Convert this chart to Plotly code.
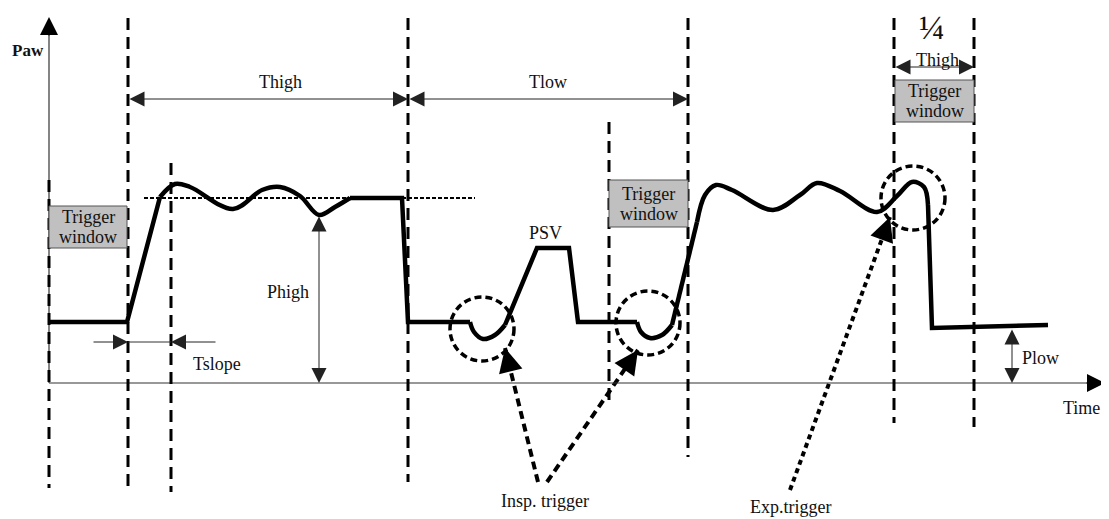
import plotly.graph_objects as go

FONT = "Liberation Serif"
INK = "#111111"
W, H = 1109, 519
PAGE_PAD = 8  # the page body margin that offsets the figure

# drawing units: x = time axis position, y = row (axis reversed, baseline at 383)
x_origin, y_base = 49, 383
x_end, y_top = 1105, 17

# pressure waveform, piecewise: straight ramps and smooth oscillations
wave_segments = [
    ("linear", [49, 127, 160], [322, 322, 197]),
    ("spline", [160, 175, 190, 233, 262, 280, 300, 319, 335, 350],
               [197, 184, 187, 209, 190, 187, 196, 215, 207, 198]),
    ("linear", [350, 402, 408, 470], [198, 198, 322, 322]),
    ("spline", [470, 474, 483, 495, 505], [322, 332, 339, 335, 325]),
    ("linear", [505, 537, 569, 578, 637], [325, 248, 248, 322, 322]),
    ("spline", [637, 641, 650, 662, 672], [322, 332, 338, 335, 325]),
    ("linear", [672, 697], [325, 222]),
    ("spline", [697, 705, 716, 732, 773, 800, 817, 840, 877, 897, 912, 924, 928],
               [222, 195, 185, 190, 210, 195, 183, 191, 212, 196, 182, 187, 205]),
    ("linear", [928, 932, 1048], [205, 328, 325]),
]

# vertical dashed markers: x, top, bottom
vline_x = [49, 128, 171, 408, 609, 688, 894, 974]
vline_top = [180, 18, 163, 18, 122, 18, 18, 18]
vline_bot = [488, 488, 492, 482, 402, 457, 423, 427]

# trigger windows: x0, x1, y0, y1
win_x0 = [49, 609, 895]
win_x1 = [127, 688, 974]
win_y0 = [206, 180, 80]
win_y1 = [248, 227, 122]

# dotted circles: centre and radius
circ_x = [482, 648, 913]
circ_y = [329, 323, 198]
circ_r = [32, 32, 32]

# dimension arrows (thin): x0, y0, x1, y1, double-headed
dims = [
    (128, 99, 408, 99, True),     # Thigh
    (408, 99, 688, 99, True),     # Tlow
    (894, 67, 974, 67, True),     # 1/4 Thigh
    (319, 215, 319, 383, True),   # Phigh
    (1012, 328, 1012, 383, True), # Plow
    (92, 342, 128, 342, False),   # Tslope left
    (217, 342, 171, 342, False),  # Tslope right
]

# dashed pointer arrows: tail -> tip
ptr_tail_x = [538, 547, 790]
ptr_tail_y = [482, 482, 490]
ptr_tip_x = [505, 638, 890]
ptr_tip_y = [348, 350, 217]
ptr_dash = ["8px,5px", "8px,5px", "5px,4px"]

# labels
labels = [
    ("Thigh", 280, 82, 18), ("Tlow", 548, 82, 18), ("Thigh", 937, 60, 18),
    ("PSV", 545, 233, 18), ("Phigh", 288, 292, 18), ("Tslope", 217, 364, 18),
    ("Plow", 1040, 358, 18), ("Time", 1081, 408, 18),
    ("Insp. trigger", 545, 501, 18), ("Exp.trigger", 790, 507, 18),
]

fig = go.Figure()

for kind, xs, ys in wave_segments:
    fig.add_trace(go.Scatter(x=xs, y=ys, mode="lines",
                             line=dict(color="black", width=4.5, shape=kind, smoothing=1.0)))

for tx, ty, hx, hy, d in zip(ptr_tail_x, ptr_tail_y, ptr_tip_x, ptr_tip_y, ptr_dash):
    fig.add_trace(go.Scatter(x=[tx, hx], y=[ty, hy], mode="lines",
                             line=dict(color="black", width=4, dash=d)))
    L = ((hx - tx) ** 2 + (hy - ty) ** 2) ** 0.5
    fig.add_annotation(x=hx, y=hy, ax=hx - 14 * (hx - tx) / L, ay=hy - 14 * (hy - ty) / L,
                       axref="x", ayref="y", showarrow=True, text="",
                       arrowhead=2, arrowsize=1.6, arrowwidth=3, arrowcolor="black")

shapes = []
# axes
shapes.append(dict(type="line", x0=x_origin, y0=y_base, x1=x_end - 8, y1=y_base,
                   line=dict(color="#333", width=1.2)))
shapes.append(dict(type="line", x0=x_origin, y0=y_base, x1=x_origin, y1=y_top + 8,
                   line=dict(color="#333", width=1.2)))
for x, t, b in zip(vline_x, vline_top, vline_bot):
    shapes.append(dict(type="line", x0=x, x1=x, y0=t, y1=b,
                       line=dict(color="black", width=3, dash="12px,7px")))
for x0, x1, y0, y1 in zip(win_x0, win_x1, win_y0, win_y1):
    shapes.append(dict(type="rect", x0=x0, x1=x1, y0=y0, y1=y1,
                       fillcolor="#c0c0c0", line=dict(color="#555", width=1)))
for cx, cy, r in zip(circ_x, circ_y, circ_r):
    shapes.append(dict(type="circle", x0=cx - r, x1=cx + r, y0=cy - r, y1=cy + r,
                       line=dict(color="black", width=3.5, dash="7px,4px")))
# Phigh reference level and Tslope connector
shapes.append(dict(type="line", x0=144, x1=475, y0=198, y1=198,
                   line=dict(color="black", width=2, dash="4px,2px")))
shapes.append(dict(type="line", x0=128, x1=171, y0=342, y1=342,
                   line=dict(color="#333", width=1)))
fig.update_layout(shapes=shapes)

# axis arrowheads
fig.add_annotation(x=x_end, y=y_base, ax=x_end - 20, ay=y_base, axref="x", ayref="y",
                   text="", arrowhead=2, arrowsize=3, arrowwidth=1.2, arrowcolor="black")
fig.add_annotation(x=x_origin, y=y_top, ax=x_origin, ay=y_top + 20, axref="x", ayref="y",
                   text="", arrowhead=2, arrowsize=3, arrowwidth=1.2, arrowcolor="black")

for x0, y0, x1, y1, both in dims:
    fig.add_annotation(x=x1, y=y1, ax=x0, ay=y0, axref="x", ayref="y", text="",
                       arrowhead=2, startarrowhead=2, arrowside="end+start" if both else "end",
                       arrowsize=3, startarrowsize=3, arrowwidth=1, arrowcolor="#222")

for (x0, x1, y0, y1) in zip(win_x0, win_x1, win_y0, win_y1):
    xc, yc = (x0 + x1) / 2, (y0 + y1) / 2
    fig.add_annotation(x=xc, y=yc - 10, text="Trigger", showarrow=False,
                       font=dict(family=FONT, size=18, color=INK))
    fig.add_annotation(x=xc, y=yc + 10, text="window", showarrow=False,
                       font=dict(family=FONT, size=18, color=INK))

for txt, x, y, s in labels:
    fig.add_annotation(x=x, y=y, text=txt, showarrow=False,
                       font=dict(family=FONT, size=s, color=INK))
fig.add_annotation(x=28, y=50, text="<b>Paw</b>", showarrow=False,
                   font=dict(family=FONT, size=17, color=INK))
fig.add_annotation(x=932, y=27, text="\u00bc", showarrow=False,
                   font=dict(family=FONT, size=34, color=INK))

fig.update_layout(
    width=W - PAGE_PAD, height=H - PAGE_PAD, margin=dict(l=0, r=0, t=0, b=0),
    paper_bgcolor="white", plot_bgcolor="white", showlegend=False,
    xaxis=dict(range=[PAGE_PAD, W], visible=False, fixedrange=True),
    yaxis=dict(range=[H, PAGE_PAD], visible=False, fixedrange=True),
)

fig.write_html("out.html")
